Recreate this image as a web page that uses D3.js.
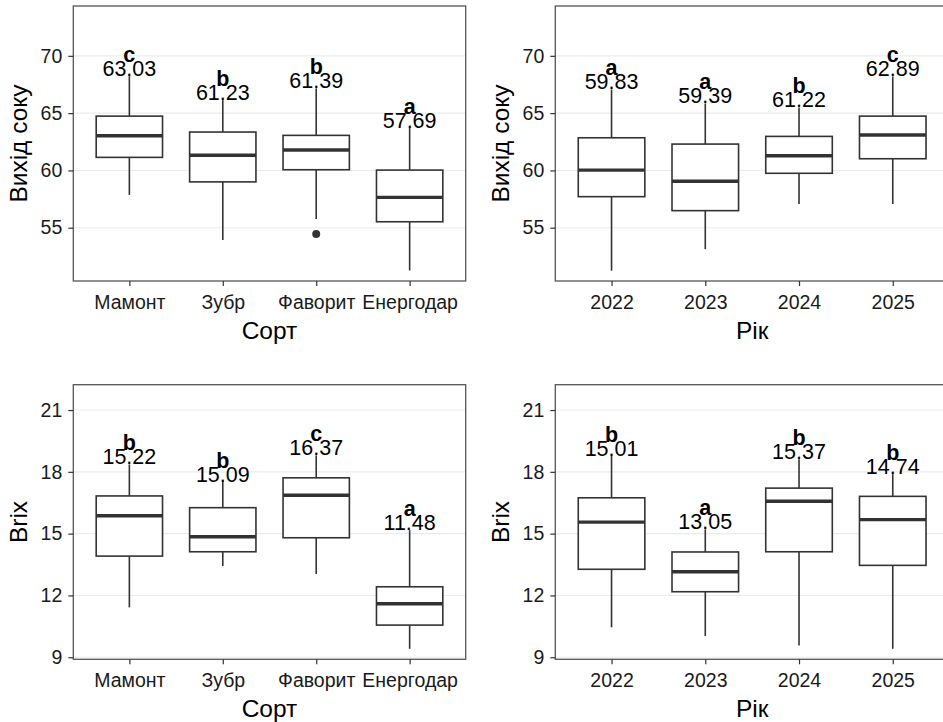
<!DOCTYPE html>
<html>
<head>
<meta charset="utf-8">
<script src="https://cdn.jsdelivr.net/npm/d3@7"></script>
<style>
  html, body { margin: 0; padding: 0; background: #fff; }
  svg { display: block; }
  text { font-family: "Liberation Sans", Arial, sans-serif; }
</style>
</head>
<body>
<svg id="chart" width="943" height="722"></svg>
<script>
// ---------- DATA ----------
const sortCategories = ["Мамонт", "Зубр", "Фаворит", "Енергодар"];
const yearCategories = ["2022", "2023", "2024", "2025"];

// Juice yield by variety
const juiceSortLow  = [57.86, 53.93, 55.76, 51.27];
const juiceSortQ1   = [61.14, 59.00, 60.06, 55.52];
const juiceSortMed  = [63.03, 61.32, 61.78, 57.65];
const juiceSortQ3   = [64.74, 63.35, 63.06, 60.03];
const juiceSortHigh = [68.23, 66.14, 67.16, 63.70];
const juiceSortOut  = [[], [], [54.45], []];
const juiceSortMean = ["63.03", "61.23", "61.39", "57.69"];
const juiceSortLetter = ["c", "b", "b", "a"];

// Juice yield by year
const juiceYearLow  = [51.25, 53.13, 57.07, 57.07];
const juiceYearQ1   = [57.71, 56.49, 59.75, 61.02];
const juiceYearMed  = [60.03, 59.05, 61.28, 63.09];
const juiceYearQ3   = [62.85, 62.30, 62.97, 64.74];
const juiceYearHigh = [67.07, 65.85, 65.50, 68.20];
const juiceYearOut  = [[], [], [], []];
const juiceYearMean = ["59.83", "59.39", "61.22", "62.89"];
const juiceYearLetter = ["a", "a", "b", "c"];

// Brix by variety
const brixSortLow  = [11.42, 13.43, 13.04, 9.41];
const brixSortQ1   = [13.91, 14.12, 14.80, 10.56];
const brixSortMed  = [15.87, 14.85, 16.86, 11.60];
const brixSortQ3   = [16.83, 16.26, 17.71, 12.42];
const brixSortHigh = [18.36, 17.52, 18.80, 15.17];
const brixSortOut  = [[], [], [], []];
const brixSortMean = ["15.22", "15.09", "16.37", "11.48"];
const brixSortLetter = ["b", "b", "c", "a"];

// Brix by year
const brixYearLow  = [10.45, 10.03, 9.57, 9.41];
const brixYearQ1   = [13.27, 12.18, 14.12, 13.46];
const brixYearMed  = [15.56, 13.15, 16.57, 15.68];
const brixYearQ3   = [16.74, 14.11, 17.21, 16.81];
const brixYearHigh = [18.78, 15.21, 18.61, 17.89];
const brixYearOut  = [[], [], [], []];
const brixYearMean = ["15.01", "13.05", "15.37", "14.74"];
const brixYearLetter = ["b", "a", "b", "b"];

const juiceTicks = [55, 60, 65, 70];
const brixTicks = [9, 12, 15, 18, 21];
const juiceDomain = [50.35, 74.35];
const brixDomain = [8.9, 22.23];

// ---------- DRAW ----------
const svg = d3.select("#chart");

function panel(opts) {
  const { x0, x1, y0, y1, cats, low, q1, med, q3, high, outs, means, letters,
          domain, ticks, yTitle, xTitle, yTitleX } = opts;
  const g = svg.append("g");
  const x = d3.scalePoint().domain(cats).range([x0, x1]).padding(0.6);
  const y = d3.scaleLinear().domain(domain).range([y1, y0]);
  const bw = x.step() * 0.71;

  // grid
  g.append("g").selectAll("line").data(ticks).join("line")
    .attr("x1", x0).attr("x2", x1)
    .attr("y1", d => y(d)).attr("y2", d => y(d))
    .attr("stroke", "#EBEBEB").attr("stroke-width", 1.1);

  const boxes = g.append("g").selectAll("g").data(cats).join("g");
  const col = "#333333";
  // whiskers
  boxes.append("line")
    .attr("x1", d => x(d)).attr("x2", d => x(d))
    .attr("y1", (d, i) => y(high[i])).attr("y2", (d, i) => y(q3[i]))
    .attr("stroke", col).attr("stroke-width", 1.6);
  boxes.append("line")
    .attr("x1", d => x(d)).attr("x2", d => x(d))
    .attr("y1", (d, i) => y(q1[i])).attr("y2", (d, i) => y(low[i]))
    .attr("stroke", col).attr("stroke-width", 1.6);
  boxes.append("rect")
    .attr("x", d => x(d) - bw / 2).attr("width", bw)
    .attr("y", (d, i) => y(q3[i])).attr("height", (d, i) => y(q1[i]) - y(q3[i]))
    .attr("fill", "#fff").attr("stroke", col).attr("stroke-width", 1.6);
  boxes.append("line")
    .attr("x1", d => x(d) - bw / 2).attr("x2", d => x(d) + bw / 2)
    .attr("y1", (d, i) => y(med[i])).attr("y2", (d, i) => y(med[i]))
    .attr("stroke", col).attr("stroke-width", 3.4);
  boxes.each(function (d, i) {
    d3.select(this).selectAll("circle").data(outs[i]).join("circle")
      .attr("cx", x(d)).attr("cy", v => y(v)).attr("r", 4)
      .attr("fill", col);
  });
  // labels
  boxes.append("text")
    .attr("x", d => x(d)).attr("y", (d, i) => y(high[i]))
    .attr("text-anchor", "middle").attr("font-size", 21.5)
    .attr("fill", "#000").text((d, i) => means[i]);
  boxes.append("text")
    .attr("x", d => x(d)).attr("y", (d, i) => y(high[i]) - 14)
    .attr("text-anchor", "middle").attr("font-size", 21.5).attr("font-weight", "bold")
    .attr("fill", "#000").text((d, i) => letters[i]);

  // border
  g.append("rect").attr("x", x0).attr("y", y0)
    .attr("width", x1 - x0).attr("height", y1 - y0)
    .attr("fill", "none").attr("stroke", "#555").attr("stroke-width", 1.3);

  // axes
  const ya = g.append("g").attr("transform", `translate(${x0},0)`)
    .call(d3.axisLeft(y).tickValues(ticks).tickSize(5).tickPadding(6));
  ya.select(".domain").remove();
  ya.selectAll(".tick line").attr("stroke", "#333").attr("stroke-width", 1.2);
  ya.selectAll(".tick text").attr("font-size", 19.5).attr("fill", "#1a1a1a")
    .attr("font-family", "Liberation Sans, Arial, sans-serif");

  const xa = g.append("g").attr("transform", `translate(0,${y1})`)
    .call(d3.axisBottom(x).tickSize(5).tickPadding(6));
  xa.select(".domain").remove();
  xa.selectAll(".tick line").attr("stroke", "#333").attr("stroke-width", 1.2);
  xa.selectAll(".tick text").attr("font-size", 19.5).attr("fill", "#1a1a1a")
    .attr("font-family", "Liberation Sans, Arial, sans-serif")
    .attr("dy", null).attr("y", 27.5);

  // titles
  g.append("text").attr("x", (x0 + x1) / 2).attr("y", y1 + 57.5)
    .attr("text-anchor", "middle").attr("font-size", 24.5).attr("fill", "#000")
    .text(xTitle);
  g.append("text")
    .attr("transform", `translate(${yTitleX},${(y0 + y1) / 2}) rotate(-90)`)
    .attr("text-anchor", "middle").attr("font-size", 24.5).attr("fill", "#000")
    .text(yTitle);
}

panel({ x0: 73.3, x1: 465.7, y0: 6, y1: 281, cats: sortCategories,
  low: juiceSortLow, q1: juiceSortQ1, med: juiceSortMed, q3: juiceSortQ3, high: juiceSortHigh,
  outs: juiceSortOut, means: juiceSortMean, letters: juiceSortLetter,
  domain: juiceDomain, ticks: juiceTicks, yTitle: "Вихід соку", xTitle: "Сорт", yTitleX: 27 });

panel({ x0: 555.3, x1: 949, y0: 6, y1: 281, cats: yearCategories,
  low: juiceYearLow, q1: juiceYearQ1, med: juiceYearMed, q3: juiceYearQ3, high: juiceYearHigh,
  outs: juiceYearOut, means: juiceYearMean, letters: juiceYearLetter,
  domain: juiceDomain, ticks: juiceTicks, yTitle: "Вихід соку", xTitle: "Рік", yTitleX: 509 });

panel({ x0: 73.3, x1: 465.7, y0: 384.7, y1: 659.3, cats: sortCategories,
  low: brixSortLow, q1: brixSortQ1, med: brixSortMed, q3: brixSortQ3, high: brixSortHigh,
  outs: brixSortOut, means: brixSortMean, letters: brixSortLetter,
  domain: brixDomain, ticks: brixTicks, yTitle: "Brix", xTitle: "Сорт", yTitleX: 27 });

panel({ x0: 555.3, x1: 949, y0: 384.7, y1: 659.3, cats: yearCategories,
  low: brixYearLow, q1: brixYearQ1, med: brixYearMed, q3: brixYearQ3, high: brixYearHigh,
  outs: brixYearOut, means: brixYearMean, letters: brixYearLetter,
  domain: brixDomain, ticks: brixTicks, yTitle: "Brix", xTitle: "Рік", yTitleX: 509 });
</script>
</body>
</html>
